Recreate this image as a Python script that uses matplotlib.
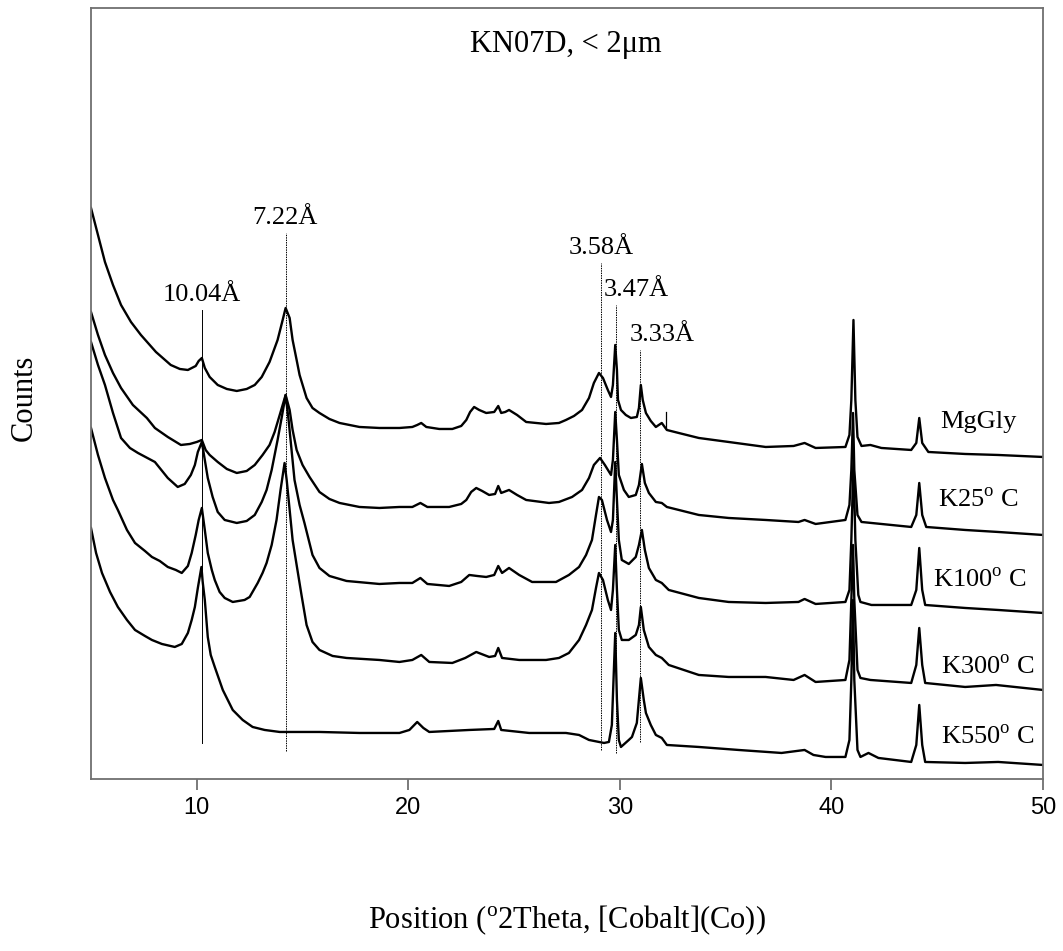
import matplotlib
matplotlib.use("Agg")
import matplotlib.pyplot as plt

plt.rcParams['font.family'] = ['Liberation Serif', 'DejaVu Serif']
plt.rcParams['mathtext.fontset'] = 'custom'
plt.rcParams['mathtext.rm'] = 'Liberation Serif'

mg_x = [5.00, 5.33, 5.66, 6.04, 6.42, 6.89, 7.36, 8.07, 8.77, 9.20, 9.58, 9.95, 10.09, 10.24, 10.38,
        10.61, 10.99, 11.42, 11.89, 12.36, 12.74, 13.07, 13.44, 13.82, 14.06, 14.20, 14.39, 14.53, 14.72,
        14.86, 15.19, 15.47, 15.80, 16.27, 16.75, 17.69, 18.63, 19.58, 20.19, 20.42, 20.61, 20.85, 21.46,
        22.08, 22.50, 22.74, 22.92, 23.11, 23.35, 23.68, 24.06, 24.25, 24.39, 24.58, 24.76, 25.14, 25.57,
        26.51, 27.12, 27.45, 27.83, 28.21, 28.54, 28.77, 29.01, 29.20, 29.43, 29.58, 29.67, 29.78, 29.86,
        29.91, 30.05, 30.28, 30.52, 30.80, 30.90, 30.99, 31.08, 31.23, 31.46, 31.70, 31.98, 32.22, 32.78,
        33.73, 35.14, 36.89, 38.21, 38.73, 39.25, 40.66, 40.85, 40.94, 41.04, 41.13, 41.23, 41.42, 41.84,
        42.36, 43.77, 44.01, 44.15, 44.29, 44.58, 46.32, 47.88, 50.00]
mg_y = [571, 544, 517, 494, 474, 457, 444, 427, 414, 410, 409, 413, 418, 421, 411,
        402, 394, 390, 388, 390, 394, 402, 417, 439, 459, 471, 461, 439, 419,
        404, 381, 371, 366, 360, 356, 352, 351, 351, 352, 354, 356, 352, 350,
        350, 353, 359, 367, 372, 369, 366, 367, 373, 366, 367, 369, 364, 357,
        355, 356, 359, 363, 369, 381, 396, 406, 401, 389, 382, 394, 434, 409,
        379, 369, 364, 361, 362, 371, 394, 379, 366, 358, 352, 356, 349, 346,
        341, 337, 332, 333, 336, 331, 332, 344, 379, 459, 379, 342, 333, 334,
        331, 329, 336, 361, 336, 327, 325, 324, 322]

k25_x = [5.00, 5.33, 5.66, 6.04, 6.42, 6.98, 7.64, 8.02, 8.63, 9.25, 9.67, 10.00, 10.24, 10.42, 10.61,
         10.99, 11.42, 11.89, 12.36, 12.74, 13.11, 13.44, 13.68, 13.92, 14.20, 14.39, 14.53, 14.72, 15.00,
         15.33, 15.80, 16.27, 16.75, 17.69, 18.63, 19.58, 20.19, 20.57, 20.90, 21.93, 22.50, 22.74, 22.97,
         23.21, 23.49, 23.82, 24.10, 24.25, 24.39, 24.76, 25.14, 25.57, 26.65, 27.12, 27.74, 28.21, 28.54,
         28.77, 29.06, 29.29, 29.58, 29.67, 29.78, 29.86, 29.95, 30.19, 30.42, 30.75, 30.90, 31.04, 31.18,
         31.37, 31.70, 31.98, 32.22, 33.73, 35.14, 36.89, 38.44, 38.73, 39.25, 40.66, 40.85, 40.94, 41.02,
         41.08, 41.23, 41.42, 41.89, 43.77, 44.01, 44.15, 44.29, 44.48, 46.32, 47.88, 50.00]
k25_y = [467, 444, 424, 406, 391, 374, 361, 351, 342, 334, 335, 337, 339, 329, 324,
         317, 310, 306, 308, 314, 324, 334, 347, 364, 384, 369, 349, 329, 314,
         302, 287, 280, 276, 272, 271, 272, 272, 276, 272, 272, 275, 279, 287,
         291, 288, 284, 285, 293, 286, 289, 284, 279, 276, 277, 282, 289, 301,
         314, 321, 314, 304, 319, 367, 339, 304, 289, 282, 284, 294, 315, 296,
         286, 277, 276, 272, 264, 261, 259, 257, 259, 255, 259, 274, 309, 366,
         309, 264, 257, 256, 252, 264, 296, 264, 252, 249, 247, 244]

k100_x = [5.00, 5.33, 5.66, 6.04, 6.42, 6.84, 7.22, 8.02, 8.63, 9.10, 9.43, 9.72, 9.91, 10.05, 10.24,
          10.38, 10.52, 10.75, 10.99, 11.32, 11.89, 12.36, 12.74, 13.07, 13.30, 13.54, 13.82, 14.01, 14.20,
          14.34, 14.48, 14.62, 14.86, 15.09, 15.47, 15.80, 16.27, 17.08, 18.63, 19.58, 20.19, 20.57, 20.90,
          21.93, 22.50, 22.88, 23.25, 23.68, 24.06, 24.25, 24.43, 24.76, 25.24, 25.85, 26.98, 27.59, 28.07,
          28.40, 28.68, 28.87, 29.01, 29.15, 29.39, 29.58, 29.67, 29.78, 29.86, 29.95, 30.09, 30.42, 30.75,
          30.90, 31.04, 31.18, 31.37, 31.70, 31.98, 32.31, 33.73, 35.14, 36.89, 38.44, 38.73, 39.25, 40.66,
          40.85, 40.94, 41.04, 41.13, 41.27, 41.37, 41.89, 43.77, 44.01, 44.15, 44.29, 44.43, 46.32, 47.88,
          50.00]
k100_y = [437, 414, 394, 366, 341, 331, 326, 317, 301, 292, 295, 304, 314, 327, 337,
          319, 301, 282, 267, 259, 256, 258, 264, 277, 289, 309, 339, 361, 384,
          359, 329, 299, 274, 256, 224, 211, 203, 198, 195, 196, 196, 201, 195,
          193, 197, 204, 203, 202, 204, 213, 206, 211, 204, 197, 197, 204, 212,
          224, 239, 264, 282, 279, 259, 247, 259, 317, 279, 239, 219, 215, 222,
          234, 249, 229, 211, 199, 196, 189, 181, 177, 176, 177, 180, 175, 177,
          189, 239, 319, 239, 184, 177, 174, 174, 189, 231, 189, 174, 171, 169,
          166]

k300_x = [5.00, 5.33, 5.66, 6.04, 6.27, 6.70, 7.08, 7.55, 7.88, 8.25, 8.63, 9.01, 9.29, 9.58, 9.76,
          9.95, 10.09, 10.24, 10.38, 10.52, 10.71, 10.85, 11.08, 11.32, 11.70, 12.26, 12.50, 12.88, 13.11,
          13.30, 13.54, 13.77, 13.96, 14.15, 14.25, 14.39, 14.53, 14.72, 14.95, 15.19, 15.47, 15.80, 16.42,
          17.08, 18.63, 19.58, 20.19, 20.61, 20.99, 22.08, 22.69, 23.21, 23.82, 24.10, 24.25, 24.43, 25.24,
          26.51, 27.12, 27.59, 28.07, 28.40, 28.68, 28.87, 29.01, 29.20, 29.43, 29.58, 29.67, 29.78, 29.86,
          29.95, 30.09, 30.42, 30.75, 30.90, 30.99, 31.13, 31.37, 31.70, 31.98, 32.31, 33.73, 35.14, 36.89,
          38.21, 38.73, 39.25, 40.66, 40.85, 40.94, 41.02, 41.08, 41.23, 41.37, 41.84, 43.77, 44.01, 44.15,
          44.29, 44.43, 46.32, 47.78, 50.00]
k300_y = [351, 324, 301, 279, 269, 249, 236, 228, 222, 218, 212, 209, 206, 213, 226,
          244, 259, 271, 249, 226, 209, 199, 187, 181, 177, 179, 182, 196, 206,
          216, 234, 259, 289, 316, 299, 269, 239, 214, 184, 154, 137, 129, 123,
          121, 119, 117, 119, 124, 117, 116, 121, 127, 122, 123, 131, 121, 119,
          119, 121, 126, 139, 154, 169, 191, 206, 199, 179, 169, 189, 234, 189,
          149, 139, 139, 144, 154, 172, 149, 132, 124, 121, 114, 104, 102, 102,
          99, 104, 97, 99, 119, 179, 234, 179, 109, 101, 99, 96, 114, 151,
          114, 96, 92, 94, 89]

k550_x = [5.00, 5.24, 5.52, 5.90, 6.27, 6.70, 7.08, 7.55, 7.88, 8.35, 8.96, 9.29, 9.58, 9.76, 9.91,
          10.05, 10.22, 10.28, 10.38, 10.52, 10.66, 10.85, 11.23, 11.70, 12.17, 12.64, 13.21, 13.92, 15.80,
          17.69, 19.58, 20.05, 20.42, 20.71, 20.99, 22.88, 24.06, 24.25, 24.39, 25.71, 27.45, 28.07, 28.54,
          29.25, 29.48, 29.62, 29.78, 29.86, 29.95, 30.05, 30.42, 30.57, 30.80, 30.99, 31.13, 31.23, 31.46,
          31.70, 31.98, 32.22, 33.73, 35.61, 37.64, 38.73, 39.15, 39.72, 40.66, 40.85, 40.94, 41.02, 41.08,
          41.23, 41.37, 41.75, 42.22, 43.77, 44.01, 44.15, 44.29, 44.43, 46.32, 47.88, 50.00]
k550_y = [251, 226, 206, 187, 172, 159, 149, 143, 139, 135, 132, 135, 146, 159, 172,
          191, 212, 197, 179, 142, 124, 112, 89, 69, 59, 52, 49, 47, 47,
          46, 46, 49, 57, 51, 47, 49, 50, 58, 49, 46, 46, 44, 39,
          36, 37, 54, 146, 79, 39, 32, 39, 42, 56, 101, 79, 66, 54,
          44, 41, 34, 32, 29, 26, 29, 24, 22, 22, 39, 99, 179, 99,
          29, 22, 26, 21, 17, 34, 74, 34, 17, 16, 17, 14]

# d-spacing markers: position, label, line bottom, line top
d_pos = [10.24, 14.20, 29.10, 29.81, 30.94]
d_labels = ['10.04Å', '7.22Å', '3.58Å', '3.47Å', '3.33Å']
d_bottom = [36, 28, 29, 26, 37]
d_top = [469, 546, 516, 474, 429]
d_label_x = [10.24, 14.15, 29.10, 30.75, 31.98]
d_styles = ['-', (0, (1.5, 1)), (0, (1.5, 1)), (0, (1.5, 1)), (0, (1.5, 1))]

series_names = ['MgGly', 'K25$^{\\mathrm{o}}$ C', 'K100$^{\\mathrm{o}}$ C',
                'K300$^{\\mathrm{o}}$ C', 'K550$^{\\mathrm{o}}$ C']
name_x = [46.93, 46.93, 47.03, 47.40, 47.40]
name_y = [357, 279, 199, 112, 42]

fig = plt.figure(figsize=(10.63, 9.51), dpi=100)
ax = fig.add_axes([0.0856, 0.1809, 0.8956, 0.8107])

for xs, ys in [(mg_x, mg_y), (k25_x, k25_y), (k100_x, k100_y), (k300_x, k300_y), (k550_x, k550_y)]:
    ax.plot(xs, ys, color='black', lw=1.7, solid_joinstyle='round')

for p, lab, b, t, lx, st in zip(d_pos, d_labels, d_bottom, d_top, d_label_x, d_styles):
    ax.plot([p, p], [b, t], color='black', lw=0.7, ls=st)
    ax.text(lx, t + 4, lab, ha='center', va='bottom', fontsize=19)

# short marker on the MgGly trace
ax.plot([32.17, 32.17], [351, 367], color='black', lw=0.9)

for nm, nx, ny in zip(series_names, name_x, name_y):
    ax.text(nx, ny, nm, ha='center', va='center', fontsize=19)

ax.text(27.45, 734, 'KN07D, < 2μm', ha='center', va='center', fontsize=22)

ax.set_xlim(5, 50)
ax.set_ylim(0, 771)
ax.set_yticks([])
ax.set_xticks([10, 20, 30, 40, 50])
ax.tick_params(axis='x', direction='out', length=8, width=1.3, color='#707070', labelsize=17, pad=5)
for lbl in ax.get_xticklabels():
    lbl.set_family('Liberation Sans')
for sp in ax.spines.values():
    sp.set_color('#707070')
    sp.set_linewidth(1.3)

fig.text(567 / 1063, 1 - 920 / 951, 'Position ($^{\\mathrm{o}}$2Theta, [Cobalt](Co))',
         ha='center', va='center', fontsize=22)
fig.text(24 / 1063, 1 - 398 / 951, 'Counts', rotation=90, ha='center', va='center', fontsize=22)

fig.savefig('out.png', dpi=100)
